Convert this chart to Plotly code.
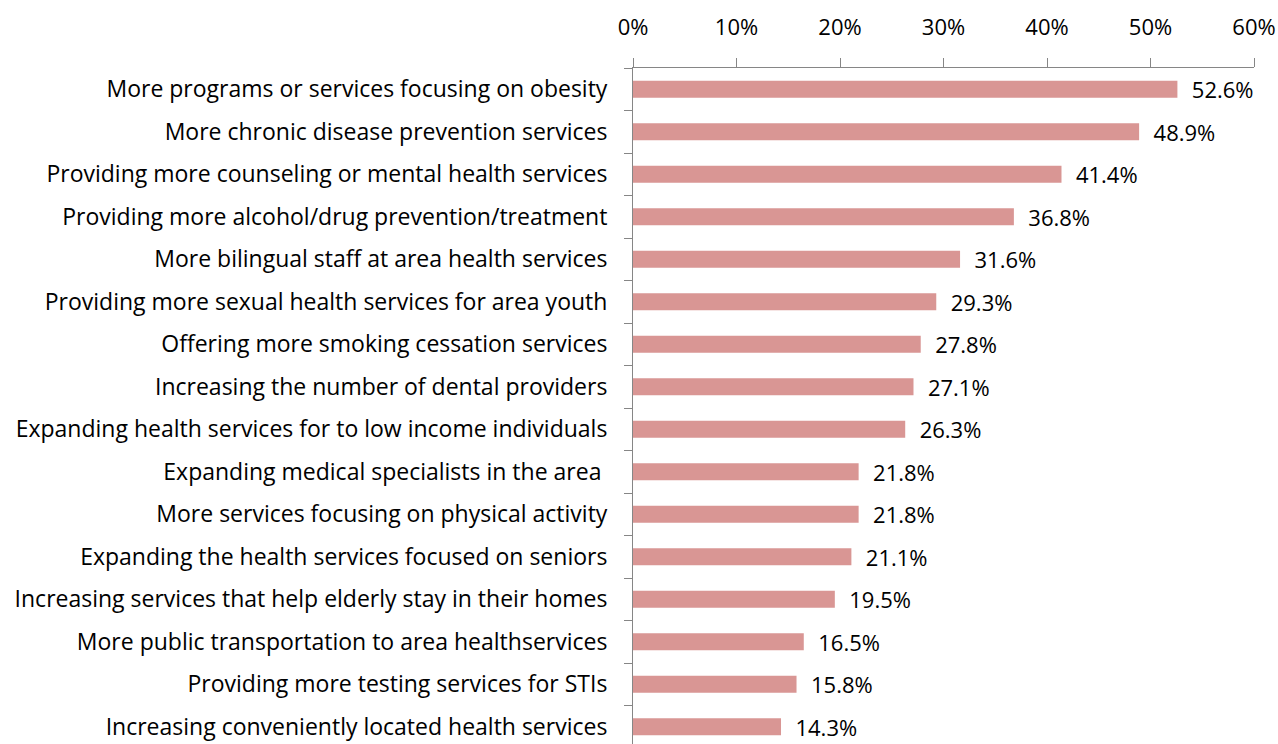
import plotly.graph_objects as go

categories = [
    "More programs or services focusing on obesity",
    "More chronic disease prevention services",
    "Providing more counseling or mental health services",
    "Providing more alcohol/drug prevention/treatment",
    "More bilingual staff at area health services",
    "Providing more sexual health services for area youth",
    "Offering more smoking cessation services",
    "Increasing the number of dental providers",
    "Expanding health services for to low income individuals",
    "Expanding medical specialists in the area ",
    "More services focusing on physical activity",
    "Expanding the health services focused on seniors",
    "Increasing services that help elderly stay in their homes",
    "More public transportation to area healthservices",
    "Providing more testing services for STIs",
    "Increasing conveniently located health services",
]
values = [0.526, 0.489, 0.414, 0.368, 0.316, 0.293, 0.278, 0.271,
          0.263, 0.218, 0.218, 0.211, 0.195, 0.165, 0.158, 0.143]
x_ticks = [0, 0.1, 0.2, 0.3, 0.4, 0.5, 0.6]

FONT = "Open Sans"
AXIS_GREY = "#868686"

fig = go.Figure(
    go.Bar(
        x=values,
        y=categories,
        orientation="h",
        marker=dict(color="#D99694", line=dict(width=0)),
        text=["  " + f"{v:.1%}" for v in values],
        textposition="outside",
        constraintext="none",
        textfont=dict(family=FONT, size=22, color="#000000"),
        cliponaxis=False,
        hoverinfo="skip",
    )
)

fig.update_layout(
    width=1278,
    height=744,
    margin=dict(l=633, r=24, t=68, b=0),
    paper_bgcolor="white",
    plot_bgcolor="white",
    bargap=0.6,
    showlegend=False,
    font=dict(family=FONT, size=22, color="#000000"),
    xaxis=dict(
        side="top",
        range=[0, 0.6],
        tickvals=x_ticks,
        tickformat=".0%",
        showgrid=False,
        zeroline=False,
        showline=True,
        linecolor=AXIS_GREY,
        linewidth=1,
        ticks="outside",
        ticklen=9,
        tickcolor=AXIS_GREY,
        ticklabelstandoff=14,
        tickfont=dict(family=FONT, size=22),
    ),
    yaxis=dict(
        type="category",
        categoryorder="array",
        categoryarray=categories,
        range=[15.406, -0.5],
        showgrid=False,
        zeroline=False,
        showline=True,
        linecolor=AXIS_GREY,
        linewidth=1,
        ticks="outside",
        tickson="boundaries",
        ticklen=8,
        tickcolor=AXIS_GREY,
        ticklabelstandoff=20,
        tickfont=dict(family=FONT, size=23),
    ),
)

fig.write_html("out.html")
